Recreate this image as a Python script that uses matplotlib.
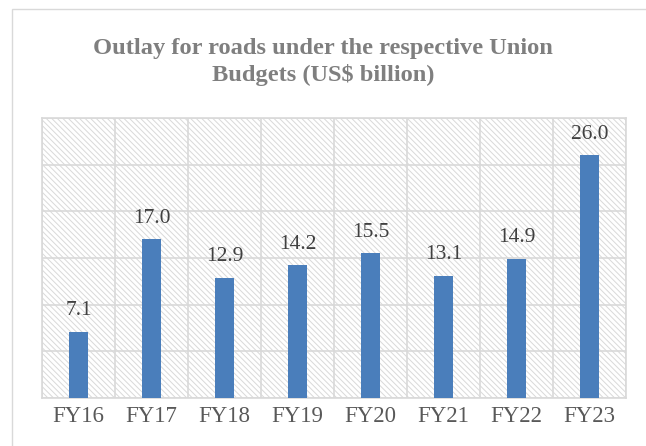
import matplotlib.pyplot as plt
from matplotlib.patches import Rectangle
import numpy as np

years = ["FY16", "FY17", "FY18", "FY19", "FY20", "FY21", "FY22", "FY23"]
outlay = [7.1, 17.0, 12.9, 14.2, 15.5, 13.1, 14.9, 26.0]

plt.rcParams['font.family'] = ['Liberation Serif', 'DejaVu Serif']
plt.rcParams['hatch.color'] = '#d9d9d9'
plt.rcParams['hatch.linewidth'] = 0.7

fig = plt.figure(figsize=(6.46, 4.46), dpi=100)
# outer chart frame
fig.patches.append(Rectangle((12 / 646, -0.1), 1.0, 1.1 - 9 / 446,
                             transform=fig.transFigure, fill=False,
                             edgecolor='#d9d9d9', linewidth=1.0))

ax = fig.add_axes([42 / 646, 48 / 446, 584 / 646, 280 / 446])
ax.patch.set_facecolor('white')
ax.patch.set_hatch('\\\\\\\\\\\\')
ax.patch.set_edgecolor('#d9d9d9')

x = np.arange(len(years))
ax.bar(x, outlay, width=0.27, color='#4a7ebb', zorder=3)

for xi, v in zip(x, outlay):
    ax.annotate(f"{v:.1f}", (xi, v), xytext=(0, 12), textcoords='offset points',
                ha='center', va='baseline', fontsize=15.5, color='#404040')

ax.set_xlim(-0.5, len(years) - 0.5)
ax.set_ylim(0, 30)
ax.set_yticks(np.arange(0, 31, 5))
ax.set_xticks(x)
ax.set_xticklabels(years, fontsize=16.5, color='#595959')
ax.set_xticks(np.arange(-0.5, len(years), 1), minor=True)
ax.tick_params(axis='x', which='both', length=0, pad=6)
ax.tick_params(axis='y', length=0, labelleft=False)
ax.grid(axis='y', color='#d9d9d9', linewidth=1.2, zorder=1)
ax.grid(axis='x', which='minor', color='#d9d9d9', linewidth=1.2, zorder=1)
ax.set_axisbelow(True)
for s in ax.spines.values():
    s.set_color('#d9d9d9')
    s.set_linewidth(1.2)

fig.text(0.5, 1 - 62 / 446, "Outlay for roads under the respective Union\nBudgets (US$ billion)",
         ha='center', va='center', fontsize=17.6, fontweight='bold', color='#7f7f7f',
         linespacing=1.32)

fig.savefig('out.png', dpi=100)
